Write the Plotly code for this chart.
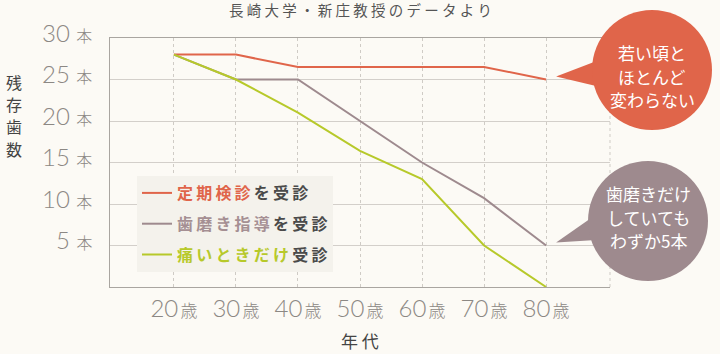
import plotly.graph_objects as go

# ---- data ----
ages = [20, 30, 40, 50, 60, 70, 80]
age_labels = ["20", "30", "40", "50", "60", "70", "80"]
age_unit = "歳"
teeth_checkup = [28, 28, 26.5, 26.5, 26.5, 26.5, 25]      # 定期検診を受診
teeth_brushing = [28, 25, 25, 20, 15, 10.7, 5]            # 歯磨き指導を受診
teeth_pain_only = [28, 25, 21, 16.4, 13, 5, 0]            # 痛いときだけ受診
y_ticks = [5, 10, 15, 20, 25, 30]
y_unit = "本"

series_colors = ["#e0654a", "#9e8a8e", "#b7c92a"]
series_label_colors = ["#e0654a", "#a58f93", "#b7c92a"]
series_label_parts = [("定期検診", "を受診"), ("歯磨き指導", "を受診"), ("痛いときだけ", "受診")]
series_values = [teeth_checkup, teeth_brushing, teeth_pain_only]

callout_red_lines = ["若い頃と", "ほとんど", "変わらない"]
callout_gray_lines = ["歯磨きだけ", "していても", "わずか5本"]

SP = "\u2009"


def spaced(s):
    return SP.join(s)


series_names = [
    f"<b><span style='color:{c}'>{spaced(a)}</span>{SP}{spaced(b)}</b>"
    for (a, b), c in zip(series_label_parts, series_label_colors)
]

BG = "#fcfaf5"
W, H = 720, 354
L, R, T, B = 110, 110, 38, 67
XR = [9.7, 90.3]
YR = [0, 30]
PW, PH = W - L - R, H - T - B


def xp(px):
    return (px - L) / PW


def yp(py):
    return (H - B - py) / PH


def data_to_px(x, y):
    px = L + (x - XR[0]) / (XR[1] - XR[0]) * PW
    py = (H - B) - (y - YR[0]) / (YR[1] - YR[0]) * PH
    return px, py


fig = go.Figure()
for name, vals, col in zip(series_names, series_values, series_colors):
    fig.add_trace(go.Scatter(
        x=ages, y=vals, mode="lines", name=name,
        line=dict(color=col, width=2), legendgroup=name,
    ))

CJK = "Noto Sans CJK JP"
NUM = "Lato, Noto Sans CJK JP"

fig.update_layout(
    width=W, height=H,
    margin=dict(l=L, r=R, t=T, b=B),
    paper_bgcolor=BG, plot_bgcolor=BG,
    font=dict(family=CJK, color="#444"),
    showlegend=True,
    legend=dict(
        x=xp(137), y=yp(176), xanchor="left", yanchor="top",
        bgcolor="#f4f2ec", borderwidth=0,
        font=dict(family=CJK, size=16, color="#4a4a4a"),
        tracegroupgap=7, itemwidth=30,
    ),
    xaxis=dict(
        range=XR, tickvals=ages,
        ticktext=[f"{a}<span style='font-size:17px'>{SP}{age_unit}</span>" for a in age_labels],
        tickfont=dict(family=NUM, size=24, color="#8c8884", weight=300),
        showgrid=True, gridcolor="#cfcbc5", griddash="3px,3px", gridwidth=1,
        showline=True, linecolor="#a9a5a0", linewidth=1, mirror=True,
        zeroline=False, ticks="", ticklabelstandoff=0,
        fixedrange=True,
    ),
    yaxis=dict(
        range=YR, tickvals=y_ticks, showticklabels=False,
        showgrid=True, gridcolor="#d3cfca", gridwidth=1,
        showline=True, linecolor="#a9a5a0", linewidth=1,
        zeroline=False, ticks="",
        fixedrange=True,
    ),
)

annotations = []
# y tick labels
for v in y_ticks:
    annotations.append(dict(
        x=0, xref="paper", y=v, yref="y", xanchor="right", yanchor="middle",
        xshift=-16, yshift=6, showarrow=False,
        text=f"{v} <span style='font-size:16px'>{y_unit}</span>",
        font=dict(family=NUM, size=24, color="#8c8884", weight=300),
    ))
# y axis title, one character per line
for ch, py in zip("残存歯数", [82, 104, 126, 149]):
    annotations.append(dict(
        x=xp(14), xref="paper", y=yp(py), yref="paper", showarrow=False,
        text=ch, font=dict(family=CJK, size=16, color="#444"),
        xanchor="center", yanchor="middle",
    ))
annotations.append(dict(
    x=xp(360), xref="paper", y=yp(340), yref="paper", showarrow=False,
    text="年 代", font=dict(family=CJK, size=17, color="#444"),
    xanchor="center", yanchor="middle",
))
annotations.append(dict(
    x=xp(360), xref="paper", y=yp(10), yref="paper", showarrow=False,
    text=" ".join("長崎大学・新庄教授のデータより"),
    font=dict(family=CJK, size=14.5, color="#555"),
    xanchor="center", yanchor="middle",
))

shapes = []
# right dashed border
shapes.append(dict(type="line", xref="paper", yref="paper", x0=1, x1=1, y0=0, y1=1,
                   line=dict(color="#cfcbc5", width=1, dash="3px,3px"), layer="below"))

# callouts
callouts = [
    dict(center=(652, 70), r=60, color="#e0654a", value=teeth_checkup[-1],
         base=((594, 62), (596, 86)), lines=callout_red_lines, ty=76),
    dict(center=(648, 221), r=60, color="#9e8a8e", value=teeth_brushing[-1],
         base=((594, 216), (596, 240)), lines=callout_gray_lines, ty=217),
]
for c in callouts:
    cx, cy = c["center"]
    r = c["r"]
    tipx, tipy = data_to_px(ages[-1], c["value"])
    tipx += 10
    tipy -= 3
    (b1x, b1y), (b2x, b2y) = c["base"]
    path = (f"M {xp(tipx)},{yp(tipy)} L {xp(b1x)},{yp(b1y)} "
            f"L {xp(b2x)},{yp(b2y)} Z")
    shapes.append(dict(type="path", xref="paper", yref="paper", path=path,
                       fillcolor=c["color"], line=dict(width=0), layer="above"))
    shapes.append(dict(type="circle", xref="paper", yref="paper",
                       x0=xp(cx - r), x1=xp(cx + r), y0=yp(cy + r), y1=yp(cy - r),
                       fillcolor=c["color"], line=dict(width=0), layer="above"))
    for i, line in enumerate(c["lines"]):
        annotations.append(dict(
            x=xp(cx), xref="paper", y=yp(c["ty"] + (i - 1) * 23.5), yref="paper",
            showarrow=False, text=line,
            font=dict(family=CJK, size=17, color="white"),
            xanchor="center", yanchor="middle", align="center",
        ))

fig.update_layout(annotations=annotations, shapes=shapes)
fig.write_html("out.html")
